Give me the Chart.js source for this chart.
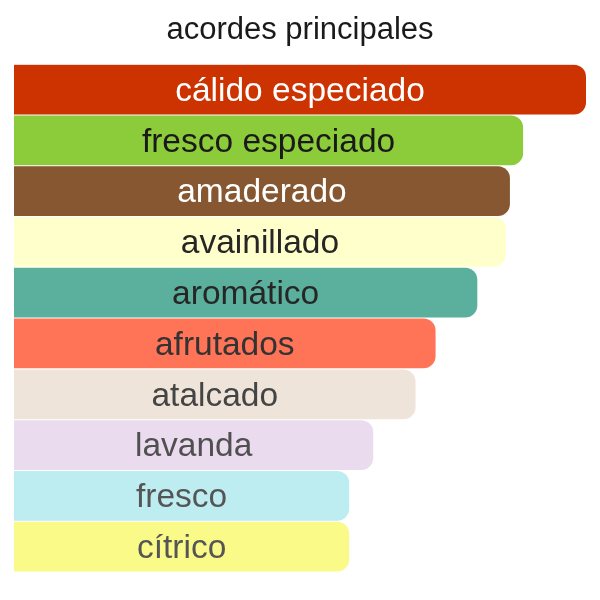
<!DOCTYPE html>
<html lang="es">
<head>
    <meta charset="UTF-8">
    <title>acordes principales</title>
    <script src="https://cdn.jsdelivr.net/npm/chart.js"></script>
    <style>
        html, body {
            margin: 0;
            padding: 0;
            background: #ffffff;
        }
        .contenedor {
            width: 600px;
            height: 600px;
        }
    </style>
</head>
<body>
    <div class="contenedor">
        <canvas id="acordes"></canvas>
    </div>
    <script>
        const acordes = ["cálido especiado", "fresco especiado", "amaderado", "avainillado", "aromático",
                         "afrutados", "atalcado", "lavanda", "fresco", "cítrico"];
        const intensidad = [100, 89, 86.7, 86, 81, 73.7, 70.2, 62.8, 58.6, 58.6];
        const coloresBarra = ["#cc3300", "#8ccb3a", "#865730", "#ffffcc", "#5ab09c",
                              "#ff7357", "#efe4da", "#eadcee", "#bdedf0", "#fafa88"];
        const coloresTexto = ["#ffffff", "#1a1a1a", "#ffffff", "#262626", "#262626",
                              "#333333", "#444444", "#505050", "#555555", "#555555"];

        // scrive il nome dell'accordo al centro di ogni barra
        const etichetteBarre = {
            id: "etichetteBarre",
            afterDatasetsDraw(chart) {
                const ctx = chart.ctx;
                const meta = chart.getDatasetMeta(0);
                ctx.save();
                ctx.font = "33.5px 'Liberation Sans', Arial, sans-serif";
                ctx.textAlign = "center";
                ctx.textBaseline = "middle";
                meta.data.forEach((barra, i) => {
                    const p = barra.getProps(["x", "y", "base"], true);
                    ctx.fillStyle = coloresTexto[i];
                    ctx.fillText(acordes[i], (p.x + p.base) / 2, p.y + 2);
                });
                ctx.restore();
            }
        };

        function creaGrafico() {
            const ctx = document.getElementById("acordes").getContext("2d");
            new Chart(ctx, {
                type: "bar",
                data: {
                    labels: acordes,
                    datasets: [{
                        data: intensidad,
                        backgroundColor: coloresBarra,
                        borderWidth: 0,
                        borderRadius: { topLeft: 0, bottomLeft: 0, topRight: 12, bottomRight: 12 },
                        borderSkipped: false,
                        categoryPercentage: 1,
                        barPercentage: 0.98,
                    }],
                },
                options: {
                    indexAxis: "y",
                    responsive: true,
                    maintainAspectRatio: false,
                    animation: false,
                    layout: {
                        padding: { top: 2, left: 14, right: 14, bottom: 28 },
                    },
                    scales: {
                        x: { display: false, min: 0, max: 100 },
                        y: { display: false },
                    },
                    plugins: {
                        legend: { display: false },
                        tooltip: { enabled: false },
                        title: {
                            display: true,
                            text: "acordes principales",
                            color: "#1a1a1a",
                            font: { size: 31, weight: "normal", family: "'Liberation Sans', Arial, sans-serif" },
                            padding: { top: 10, bottom: 15 },
                        },
                    },
                },
                plugins: [etichetteBarre],
            });
        }

        document.addEventListener("DOMContentLoaded", creaGrafico);
    </script>
</body>
</html>
